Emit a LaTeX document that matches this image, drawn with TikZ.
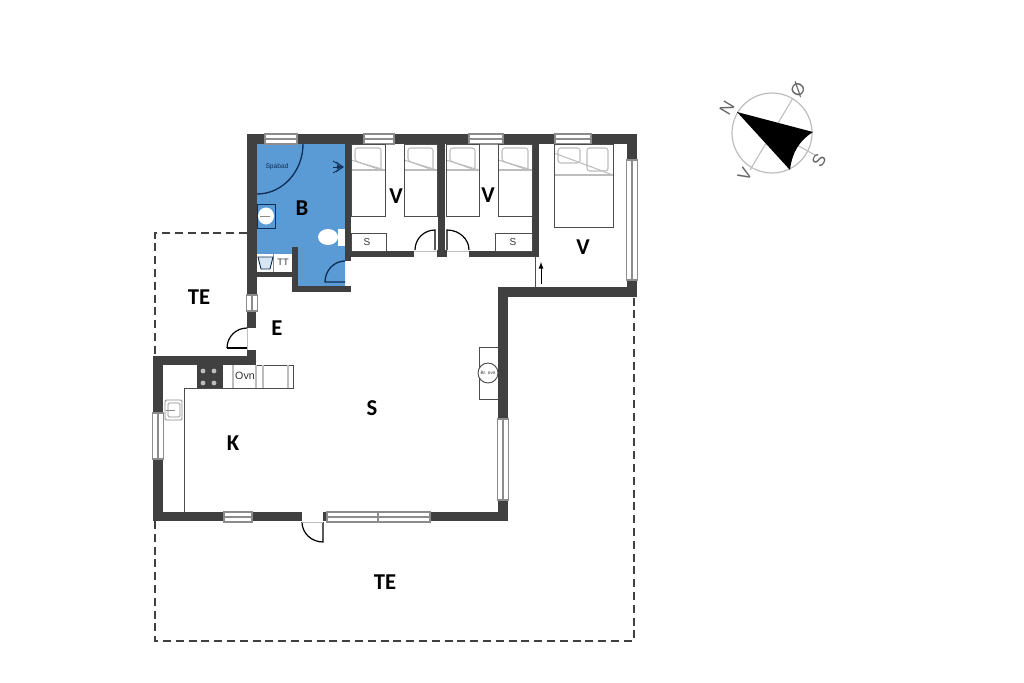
\documentclass[tikz,border=0pt]{standalone}
\usepackage{fontspec}
\setmainfont{Carlito}
\newfontfamily\plainfont{Liberation Sans}
\definecolor{wallgray}{HTML}{404040}
\definecolor{bathblue}{HTML}{5B9BD5}
\definecolor{bathline}{HTML}{0F2F57}
\definecolor{thingray}{HTML}{8C8C8C}
\definecolor{softgray}{HTML}{BDBDBD}
\tikzset{
  wall/.style={fill=wallgray,draw=none},
  windowbox/.style={draw=thingray,fill=white,line width=.9pt},
  thin line/.style={draw=black!70,line width=.7pt},
  bed line/.style={draw=softgray,line width=.8pt},
  door/.style={draw=black,line width=.9pt},
  bath door/.style={draw=bathline,line width=1pt},
  roomlabel/.style={font=\fontsize{17}{17}\selectfont\bfseries,inner sep=0pt},
  smalllabel/.style={font=\plainfont\fontsize{8}{8}\selectfont,inner sep=0pt,text=black!80},
  compasslabel/.style={font=\plainfont\fontsize{13}{13}\selectfont,inner sep=0pt,text=black!60,rotate=59},
  terrace/.style={draw=black!75,line width=.8pt,dash pattern=on 6pt off 3.6pt}
}
\newcommand{\hwindow}[3]{% x from, x to, y centre
  \draw[windowbox] (#1,#3-5) rectangle (#2,#3+5);
  \draw[windowbox] (#1,#3) -- (#2,#3);
}
\newcommand{\vwindow}[3]{% y from, y to, x centre
  \draw[windowbox] (#3-5.5,#1) rectangle (#3+5.5,#2);
  \draw[windowbox] (#3,#1) -- (#3,#2);
}
\newcommand{\singlebed}[2]{% x from, x to
  \draw[bed line,rounded corners=2pt] (#1+4,148) -- (#2-4,148) -- (#2-4,170) -- (#1+4,161) -- cycle;
  \draw[bed line] (#1,170) -- (#2,170);
  \draw[bed line] (#1,160) -- (#2,170);
  \draw[thin line] (#1,144) rectangle (#2,216);
}
\begin{document}
\begin{tikzpicture}[x=.75pt,y=-.75pt]
  \useasboundingbox (0,0) rectangle (1024,682);

  % terrace outlines
  \draw[terrace] (247,233) -- (155,233) -- (155,356);
  \draw[terrace] (155,521) -- (155,641) -- (634,641) -- (634,297);

  % bathroom floor
  \fill[bathblue] (257,144) -- (345,144) -- (345,286) -- (298,286) -- (298,247) -- (292,247) -- (292,254) -- (257,254) -- cycle;

  % walls
  \fill[wall] (247,134) rectangle (637,144);
  \fill[wall] (247,134) rectangle (257,295);
  \fill[wall] (247,311) rectangle (256,328);
  \fill[wall] (247,350) rectangle (256,365);
  \fill[wall] (153,356) rectangle (256,365);
  \fill[wall] (153,356) rectangle (163,413);
  \fill[wall] (153,459) rectangle (163,521);
  \fill[wall] (153,512) rectangle (302,521);
  \fill[wall] (323,512) rectangle (508,521);
  \fill[wall] (498,287) rectangle (508,521);
  \fill[wall] (498,287) rectangle (637,297);
  \fill[wall] (627,134) rectangle (637,160);
  \fill[wall] (627,280) rectangle (637,297);
  \fill[wall] (345,144) rectangle (351,261);
  \fill[wall] (292,286) rectangle (351,292);
  \fill[wall] (292,247) rectangle (298,292);
  \fill[wall] (257,272) rectangle (292,277);
  \fill[wall] (351,251) rectangle (414,257);
  \fill[wall] (438,144) rectangle (445,250);
  \fill[wall] (437,250) rectangle (447,257);
  \fill[wall] (469,251) rectangle (539,257);
  \fill[wall] (532,144) rectangle (539,257);

  % windows
  \hwindow{265}{297}{139}
  \hwindow{364}{394}{139}
  \hwindow{469}{503}{139}
  \hwindow{555}{591}{139}
  \hwindow{224}{252}{517}
  \hwindow{327}{378}{517}
  \hwindow{378}{430}{517}
  \vwindow{295}{311}{252}
  \vwindow{413}{459}{158}
  \vwindow{419}{500}{503}
  \vwindow{160}{280}{632}

  % beds
  \singlebed{351}{385}
  \singlebed{404}{437}
  \singlebed{446}{479}
  \singlebed{498}{532}
  \draw[bed line,rounded corners=2pt] (558,148) rectangle (580,163);
  \draw[bed line,rounded corners=2pt] (587,148) rectangle (608,171);
  \draw[bed line] (554,175) -- (613,175);
  \draw[bed line] (554,153) -- (613,175);
  \draw[thin line] (554,144) rectangle (613,227);

  % wardrobes
  \draw[thin line] (351,233) rectangle (386,251);
  \draw[thin line] (495,233) rectangle (532,251);
  \node[smalllabel,font=\plainfont\fontsize{7.5}{8}\selectfont] (wardrobeleft) at (367,242) {S};
  \node[smalllabel,font=\plainfont\fontsize{7.5}{8}\selectfont] (wardroberight) at (513,242) {S};

  % bedroom doors
  \draw[door] (435,250) -- (435,230) arc (-90:-180:20);
  \draw[door] (447,250) -- (447,230) arc (-90:0:22 and 20);
  \draw[softgray] (414,251) -- (437,251);
  \draw[softgray] (447,251) -- (469,251);

  % passage line and arrow
  \draw[thin line] (535,257) -- (535,287);
  \draw[-latex,line width=.7pt] (541,284) -- (541,262);

  % bathroom fittings
  \draw[bathline,line width=1pt] (303,144) arc (0:90:46 and 50);
  \node[smalllabel,text=bathline,font=\plainfont\fontsize{5}{5}\selectfont] (spabad) at (277,167) {Spabad};
  \draw[bathline,line width=.6pt,-latex] (333,167) -- (343,167);
  \draw[bathline,line width=.6pt] (333,161) -- (343,167) -- (333,173);
  \draw[bathline,line width=.6pt] (336,162) -- (343,167) -- (336,172);
  \draw[bathline,line width=.7pt] (257,204) rectangle (275,228);
  \fill[white] (266,216) ellipse (8 and 8.5);
  \draw[thingray,line width=.5pt] (260,216) -- (270,216);
  \fill[white] (338,229) rectangle (345,246);
  \fill[white] (328,237) ellipse (10 and 8);
  \fill[white] (257,254) rectangle (292,272);
  \draw[thingray,line width=.5pt] (273,254) -- (273,272);
  \draw[bathline,line width=.7pt,fill=bathblue!25] (258,257) -- (273,257) -- (270,269) -- (261,269) -- cycle;
  \node[smalllabel,font=\plainfont\fontsize{7}{7}\selectfont] (washer) at (283,262) {TT};
  \draw[bath door] (345,282) -- (325,282) arc (180:270:20 and 21);

  % kitchen
  \draw[thin line] (256,365) -- (293,365) -- (293,388) -- (184,388) -- (184,512);
  \fill[wall] (197,365) rectangle (223,388);
  \foreach \px/\py in {203/371,214/371,203/383,214/383}
    \fill[softgray] (\px,\py) circle (2.4);
  \draw[bed line] (233,365) -- (233,388);
  \draw[bed line] (256,365) -- (256,388);
  \draw[bed line] (263,365) -- (263,388);
  \draw[bed line] (288,365) -- (288,388);
  \node[smalllabel,font=\plainfont\fontsize{8}{8}\selectfont] (oven) at (245,376) {Ovn};
  \draw[thingray,line width=.7pt,fill=white,rounded corners=1pt] (165,400) rectangle (182,420);
  \draw[thingray,line width=.6pt,rounded corners=1pt] (168,403) rectangle (180,417);
  \draw[thingray,line width=.6pt] (166,410) -- (175,410);

  % wood stove
  \draw[thin line] (498,347) -- (479,347) -- (479,399) -- (498,399);
  \draw[thin line,fill=white] (488,373) circle (10);
  \node[smalllabel,font=\plainfont\fontsize{3.5}{4}\selectfont] (stove) at (488,373) {Br. ovn};

  % outer doors
  \draw[door,line width=1.4pt] (247,348) -- (227,348);
  \draw[door] (227,348) arc (180:270:20);
  \draw[softgray] (247,328) -- (247,350);
  \draw[door] (302,522) arc (180:90:21 and 20) -- (323,522);
  \draw[softgray] (302,522) -- (323,522);

  % room labels
  \node[roomlabel] (bath) at (302,208) {B};
  \node[roomlabel] (bedroomone) at (396,196) {V};
  \node[roomlabel] (bedroomtwo) at (488,195) {V};
  \node[roomlabel] (bedroomthree) at (583,247) {V};
  \node[roomlabel] (terracesmall) at (199,297) {TE};
  \node[roomlabel] (entry) at (277,328) {E};
  \node[roomlabel] (living) at (372,408) {S};
  \node[roomlabel] (kitchen) at (233,443) {K};
  \node[roomlabel] (terracelarge) at (385,582) {TE};

  % compass
  \draw[softgray,line width=.9pt] (772,133) circle (40);
  \draw[softgray,line width=.8pt] (793,98) -- (750,170);
  \draw[softgray,line width=.8pt] (737,112) -- (815,155);
  \fill[black] (737,112) -- (813,132) .. controls (800,140) and (792,152) .. (790,170) -- cycle;
  \node[compasslabel] (north) at (727,108) {N};
  \node[compasslabel] (east) at (798,90) {Ø};
  \node[compasslabel] (south) at (819,160) {S};
  \node[compasslabel] (west) at (745,174) {V};
\end{tikzpicture}
\end{document}
